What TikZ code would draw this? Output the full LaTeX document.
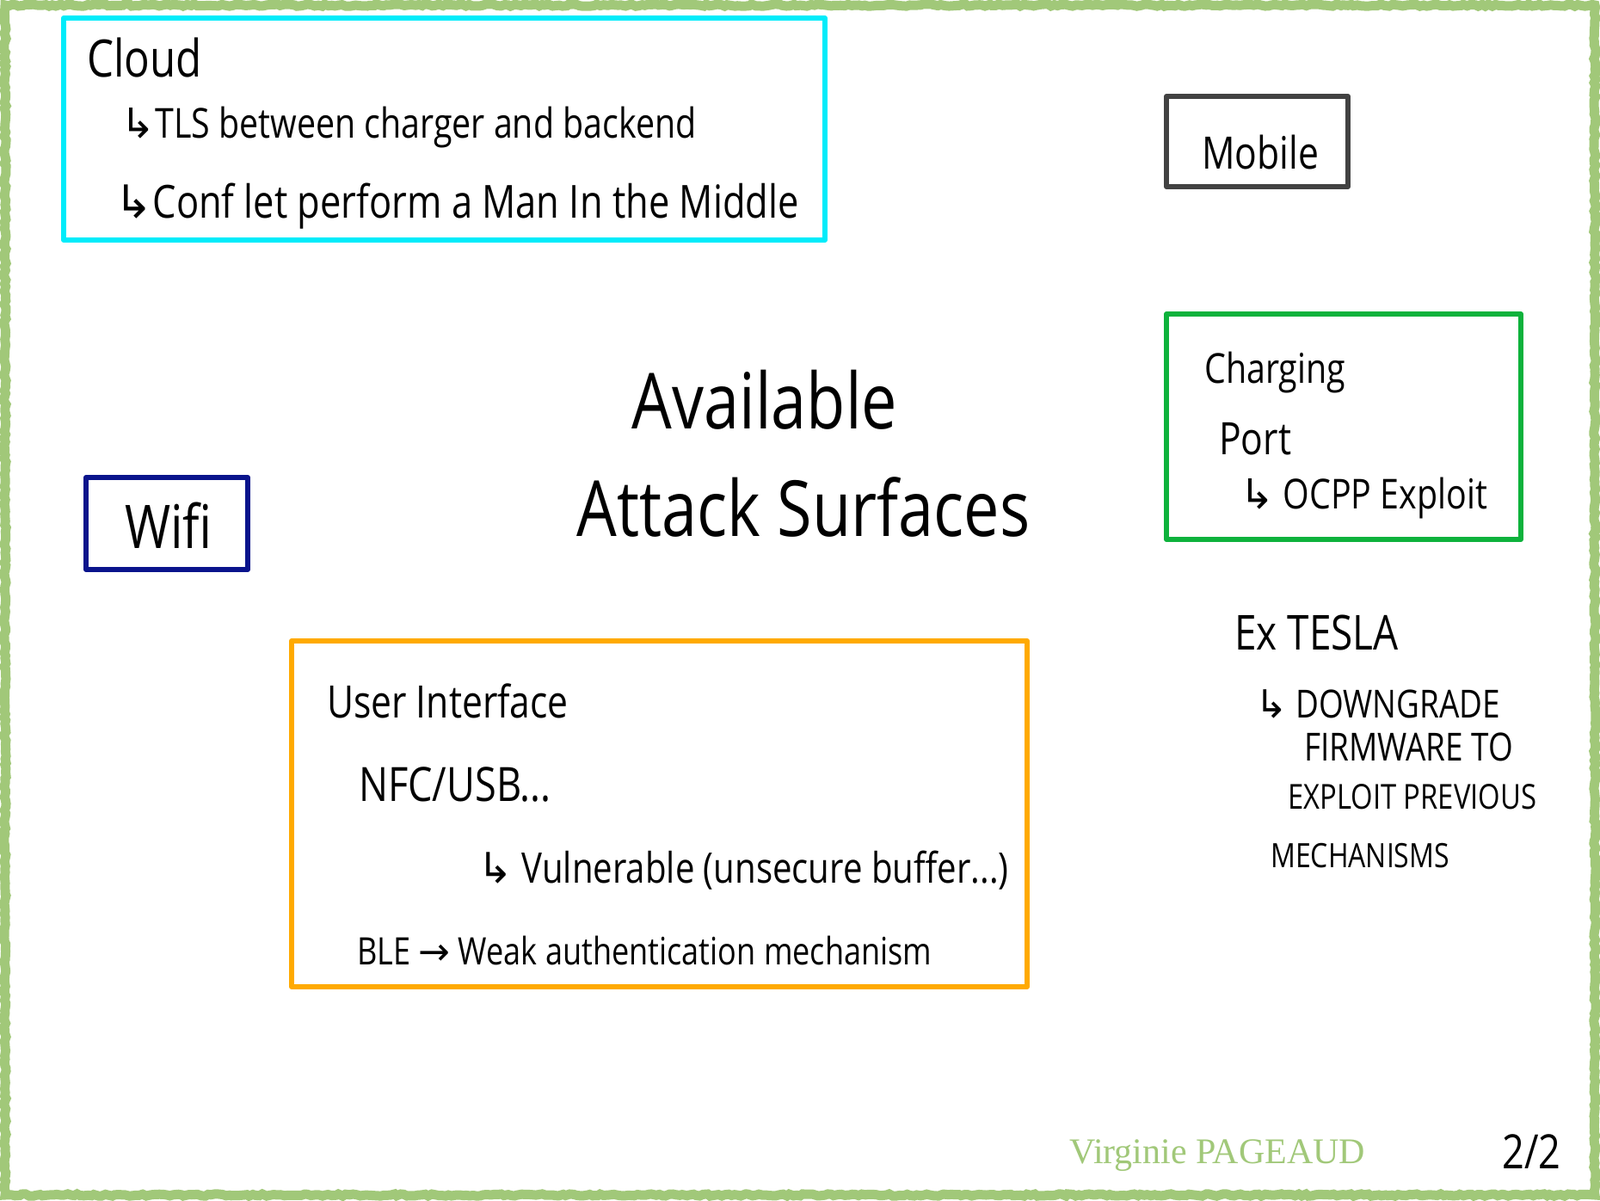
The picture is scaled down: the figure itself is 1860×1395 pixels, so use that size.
\documentclass[tikz,border=0pt]{standalone}
\usepackage{fontspec}
\usetikzlibrary{decorations.pathmorphing}

\newfontfamily\handfont[FakeStretch=0.82]{Open Sans}
\newfontfamily\symfont{DejaVu Sans}
\newfontfamily\namefont{Liberation Serif}
\newcommand\inksize[1]{\fontsize{#1}{#1}\selectfont}
\newcommand\hookarr{{\symfont ↳}}
\newcommand\rarr{{\symfont →}}

\definecolor{framegreen}{RGB}{161,200,121}
\definecolor{cloudcyan}{RGB}{0,236,250}
\definecolor{mobilegray}{RGB}{66,66,66}
\definecolor{portgreen}{RGB}{14,178,60}
\definecolor{wifinavy}{RGB}{10,20,140}
\definecolor{uiorange}{RGB}{255,170,0}

\tikzset{
  surface/.style={line width=6pt, line join=round},
  scribble/.style={font=\handfont, anchor=base west, inner sep=0pt},
}

\begin{document}
\begin{tikzpicture}[x=1pt, y=-1pt]

\useasboundingbox (0,0) rectangle (1860,1395);

%% chalk frame
\draw[framegreen, line width=11pt,
  decorate, decoration={random steps, segment length=4pt, amplitude=1.2pt}]
  (6,6) rectangle (1854,1389);

%% surfaces
\draw[surface, cloudcyan] (74,21) rectangle (959,279);
\draw[surface, mobilegray] (1356,112) rectangle (1567,217);
\draw[surface, portgreen] (1356,365) rectangle (1768,627);
\draw[surface, wifinavy] (100,555) rectangle (288,662);
\draw[surface, uiorange] (339,745) rectangle (1194,1147);

%% cloud
\node[scribble] (cloud) at (101,89) {\inksize{60}Cloud};
\node[scribble] (tls) at (140,160) {\inksize{48}\hookarr TLS between charger and backend};
\node[scribble] (mitm) at (133,253) {\inksize{53}\hookarr Conf let perform a Man In the Middle};

%% mobile
\node[scribble] (mobile) at (1397,196) {\inksize{52}Mobile};

%% charging port
\node[scribble] (charging) at (1400,445) {\inksize{48}Charging};
\node[scribble] (port) at (1417,528) {\inksize{52}Port};
\node[scribble] (ocpp) at (1441,591) {\inksize{48}\hookarr{} OCPP Exploit};

%% title
\node[scribble, anchor=base] (avail) at (889,498) {\inksize{90}Available};
\node[scribble, anchor=base] (attack) at (934,623) {\inksize{90}Attack Surfaces};

%% wifi
\node[scribble] (wifi) at (145,637) {\inksize{70}Wifi};

%% user interface
\node[scribble] (ui) at (380,834) {\inksize{52}User Interface};
\node[scribble] (nfc) at (417,931) {\inksize{55}NFC/USB...};
\node[scribble] (vuln) at (555,1026) {\inksize{49}\hookarr{} Vulnerable (unsecure buffer...)};
\node[scribble] (ble) at (415,1121) {\inksize{44}BLE \rarr{} Weak authentication mechanism};

%% tesla
\node[scribble] (tesla) at (1435,755) {\inksize{56}Ex TESLA};
\node[scribble] (down) at (1459,834) {\inksize{45}\hookarr{} DOWNGRADE};
\node[scribble] (firm) at (1516,884) {\inksize{45}FIRMWARE TO};
\node[scribble] (prev) at (1497,940) {\inksize{40}EXPLOIT PREVIOUS};
\node[scribble] (mech) at (1477,1008) {\inksize{39}MECHANISMS};

%% footer
\node[anchor=base west, inner sep=0pt, font=\namefont, text=framegreen]
  (author) at (1243,1352) {\inksize{42}Virginie PAGEAUD};
\node[scribble] (page) at (1746,1358) {\inksize{55}2/2};

\end{tikzpicture}
\end{document}
